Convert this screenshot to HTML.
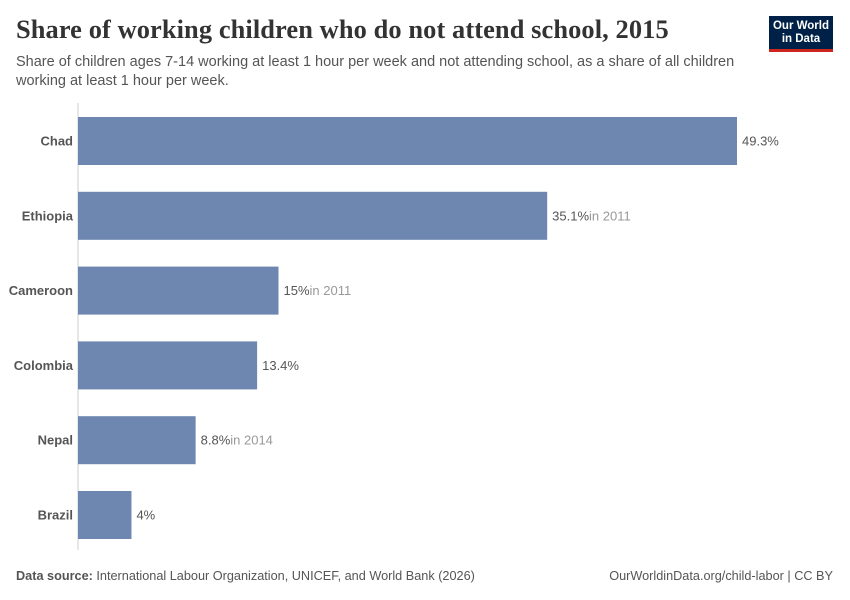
<!DOCTYPE html>
<html><head><meta charset="utf-8"><style>
body{margin:0;background:#fff;font-family:"Liberation Sans",sans-serif;}
#c{position:relative;width:850px;height:600px;overflow:hidden;}
.t{position:absolute;white-space:nowrap;}
</style></head><body>
<div id="c">
<div class="t" style="left:16px;top:14px;font-family:'Liberation Serif',serif;font-size:26.4px;letter-spacing:0.1px;font-weight:bold;color:#333;">Share of working children who do not attend school, 2015</div>
<div class="t" style="left:16px;top:53px;font-size:14.5px;line-height:19px;color:#555;white-space:normal;width:740px;">Share of children ages 7-14 working at least 1 hour per week and not attending school, as a share of all children working at least 1 hour per week.</div>
<div style="position:absolute;left:769px;top:16px;width:64px;height:36px;background:#002147;border-bottom:3px solid #ce261e;box-sizing:border-box;color:#fff;font-size:11.5px;line-height:13px;text-align:center;padding-top:4px;font-weight:bold;">Our World<br>in Data</div>
<svg id="s" width="850" height="600" style="position:absolute;left:0;top:0;"></svg>
<div class="t" style="left:16px;top:569px;font-size:12.7px;color:#555;"><b>Data source:</b> International Labour Organization, UNICEF, and World Bank (2026)</div>
<div class="t" style="right:17px;top:569px;font-size:12.7px;color:#555;">OurWorldinData.org/child-labor | CC BY</div>
</div>
<script>
const countries=["Chad","Ethiopia","Cameroon","Colombia","Nepal","Brazil"];
const values=[49.3,35.1,15,13.4,8.8,4];
const labels=["49.3%","35.1%","15%","13.4%","8.8%","4%"];
const notes=["","in 2011","in 2011","","in 2014",""];
const NS="http://www.w3.org/2000/svg";
const s=document.getElementById('s');
const x0=78,xmax=737,vmax=49.3;
const xs=v=>x0+(v/vmax)*(xmax-x0);
const y0=117,step=74.8,bh=48;
function mk(t,a){const e=document.createElementNS(NS,t);for(const k in a)e.setAttribute(k,a[k]);s.appendChild(e);return e;}
const ax=mk('line',{x1:x0,x2:x0,y1:103,y2:550,stroke:'#ccc','stroke-width':1});


countries.forEach((c,i)=>{
 const y=y0+i*step;
 const r=mk('rect',{x:x0,y:y,width:xs(values[i])-x0,height:bh,fill:'#6d87b0'});
 
 
 const l=mk('text',{x:73,y:y+bh/2+4.5,'text-anchor':'end','font-size':13,'font-weight':'bold',fill:'#555','font-family':'Liberation Sans'});
 l.textContent=c;
 
 
 const v=mk('text',{x:xs(values[i])+5,y:y+bh/2+4.5,'font-size':13,fill:'#555','font-family':'Liberation Sans'});
 
 
 const t1=document.createElementNS(NS,'tspan');t1.textContent=labels[i];v.appendChild(t1);
 if(notes[i]){const t2=document.createElementNS(NS,'tspan');t2.setAttribute('fill','#999');t2.textContent=notes[i];v.appendChild(t2);}
});
</script>
</body></html>
